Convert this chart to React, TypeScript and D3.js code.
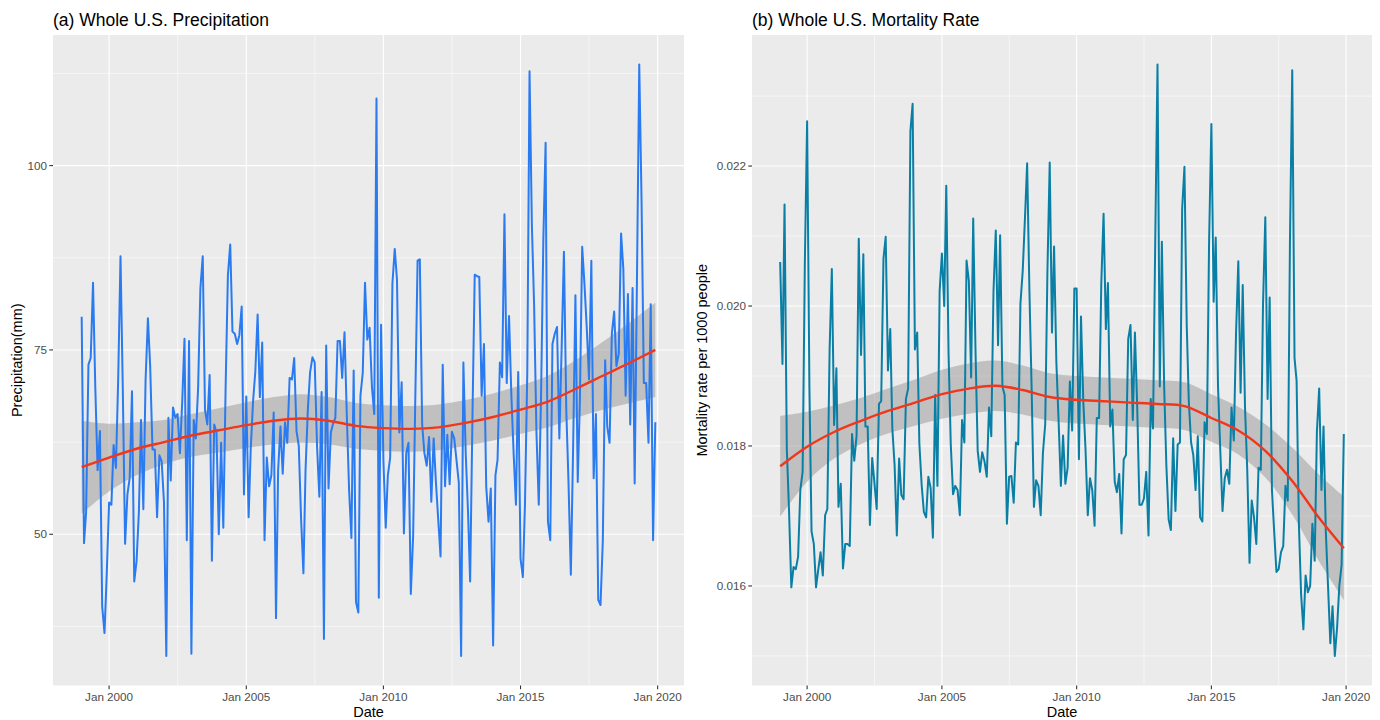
import React from "react";
import * as d3 from "d3";

// ---------------- DATA ----------------
const START_YEAR = 1999; // monthly series, Jan 1999 .. Dec 2019

// Whole U.S. precipitation (mm), monthly
const precipitation = [
  79.5, 48.8, 53, 73, 73.9, 84.1, 70, 58.7, 64, 40.2, 36.6, 44.7,
  54.3, 54, 62.1, 59, 71, 87.7, 70, 48.7, 55.4, 57.6, 69.4, 43.6,
  46.4, 53.1, 65.5, 53.4, 71, 79.3, 72.8, 61.5, 61.5, 52.3, 60.7, 59.9,
  54.3, 33.5, 65.8, 57.3, 67.2, 65.8, 66.3, 61, 68, 76.5, 49.2, 76.2,
  33.8, 65.5, 63, 70, 83.4, 87.7, 66.9, 64.9, 71.6, 46.4, 64.9, 63.8,
  50, 62.4, 50.9, 70, 85.1, 89.3, 77.5, 77.2, 75.8, 77, 80.9, 55.4,
  68.7, 52.3, 61.5, 68, 72, 79.8, 68.6, 76, 49.2, 60.4, 56.5, 58,
  66.5, 38.6, 58.7, 64.6, 58.2, 65.2, 62.4, 71.2, 71, 73.9, 64, 62,
  52, 44.7, 58.7, 67, 72, 74, 73.3, 62, 55.1, 69.3, 35.8, 75.6,
  56.2, 63.8, 65, 65.8, 76.2, 76.2, 71.2, 77.4, 66, 56, 49.5, 72.2,
  40.8, 39.4, 68.8, 71.9, 84.1, 76.4, 78, 70, 66.3, 109.1, 41.4, 78.4,
  60, 50.9, 58, 60.4, 84, 88.7, 84.5, 63.8, 70.6, 50.1, 61, 62.4,
  41.9, 49.8, 68, 87.1, 87.3, 64.9, 61, 59.3, 63.2, 54.4, 63, 57.1,
  52, 47, 73, 56.5, 63.5, 56.8, 63.9, 63, 60, 57, 33.5, 73.3,
  61, 53, 43.6, 66, 85.2, 85, 84.9, 68.8, 75.8, 56.5, 51.7, 56.2,
  34.9, 58, 60.1, 73.3, 71.3, 93.4, 70.5, 79.6, 68.8, 61, 54, 72,
  46.7, 44.2, 54, 72, 112.8, 92, 81, 63.8, 54, 68.5, 90, 103.1,
  51.7, 49.2, 75.8, 77.2, 78.1, 63, 75, 88.3, 67, 57, 44.5, 61.5,
  82.4, 57.1, 68, 89, 84, 78, 71, 87.1, 57.6, 66.3, 41.1, 40.4,
  49.2, 73.6, 64.6, 62.4, 77.2, 80.2, 72.8, 74.5, 90.8, 86, 68.8, 82.6,
  64.9, 83.4, 56.9, 85, 113.7, 95, 70.5, 70.5, 62.4, 81.2, 49.2, 65.2,
];

// Whole U.S. mortality rate per 1000 people, monthly
const mortality = [
  0.02063, 0.01917, 0.02145, 0.01796, 0.01707, 0.01598, 0.01627, 0.01624, 0.01642, 0.01737, 0.01763, 0.02059,
  0.02264, 0.01885, 0.01678, 0.0166, 0.01598, 0.01624, 0.01648, 0.01615, 0.01701, 0.0171, 0.01938, 0.02053,
  0.0183, 0.01911, 0.01713, 0.01746, 0.01625, 0.0166, 0.0166, 0.01657, 0.01817, 0.01779, 0.01814, 0.02096,
  0.0193, 0.02074, 0.01828, 0.01828, 0.01687, 0.01783, 0.01748, 0.0171, 0.0186, 0.01864, 0.02068, 0.02099,
  0.01908, 0.01967, 0.01825, 0.01772, 0.01672, 0.01782, 0.0173, 0.01724, 0.01867, 0.01882, 0.0225, 0.02289,
  0.01938, 0.01962, 0.01804, 0.01745, 0.01706, 0.01698, 0.01756, 0.0174, 0.01669, 0.01873, 0.01743, 0.02021,
  0.02075, 0.02, 0.02172, 0.01932, 0.01802, 0.01731, 0.01743, 0.01737, 0.01701, 0.01837, 0.01805, 0.02065,
  0.02036, 0.01898, 0.02125, 0.01938, 0.01793, 0.01763, 0.01791, 0.01778, 0.01756, 0.01855, 0.01814, 0.02021,
  0.02108, 0.01944, 0.02101, 0.01885, 0.01873, 0.01689, 0.01756, 0.01757, 0.01719, 0.01805, 0.01802, 0.02003,
  0.0205, 0.02127, 0.02204, 0.02021, 0.01882, 0.01713, 0.01751, 0.01743, 0.01701, 0.0179, 0.01831, 0.0205,
  0.02205, 0.01962, 0.02085, 0.0192, 0.01837, 0.01743, 0.01815, 0.01746, 0.01769, 0.01892, 0.01822, 0.02025,
  0.02025, 0.01781, 0.01985, 0.01864, 0.01796, 0.01701, 0.01754, 0.01737, 0.01686, 0.0184, 0.0184, 0.02033,
  0.02132, 0.01967, 0.02033, 0.01828, 0.01852, 0.01749, 0.01734, 0.0176, 0.01675, 0.01781, 0.01787, 0.01953,
  0.01973, 0.01837, 0.01962, 0.01855, 0.01716, 0.01716, 0.01725, 0.01763, 0.01672, 0.01867, 0.01825, 0.02092,
  0.02345, 0.01885, 0.02092, 0.01885, 0.01772, 0.01695, 0.0168, 0.01811, 0.01707, 0.01802, 0.01805, 0.02139,
  0.02199, 0.01973, 0.01864, 0.01805, 0.01787, 0.01737, 0.01814, 0.01698, 0.01692, 0.01834, 0.01817, 0.02092,
  0.0226, 0.02006, 0.02098, 0.01885, 0.01796, 0.01707, 0.01754, 0.01766, 0.01746, 0.01855, 0.01808, 0.0196,
  0.02064, 0.01876, 0.0203, 0.01855, 0.01766, 0.01633, 0.01722, 0.01698, 0.0166, 0.01769, 0.01766, 0.02003,
  0.02127, 0.01867, 0.02012, 0.01737, 0.01678, 0.0162, 0.01624, 0.01648, 0.01657, 0.01743, 0.01722, 0.02092,
  0.02337, 0.01926, 0.01893, 0.01689, 0.01588, 0.01538, 0.01615, 0.01591, 0.016, 0.01689, 0.01636, 0.0182,
  0.01882, 0.01737, 0.01828, 0.01678, 0.016, 0.01518, 0.01571, 0.015, 0.01541, 0.016, 0.0163, 0.01817,
];

// Loess smooth (geom_smooth) read at knots, with its standard-error half-width
const smoothKnots = [
  "1999-01", "2000-01", "2001-01", "2002-01", "2003-01", "2004-01", "2005-01", "2006-01",
  "2007-01", "2008-01", "2009-01", "2010-01", "2011-01", "2012-01", "2013-01", "2014-01",
  "2015-01", "2016-01", "2017-01", "2018-01", "2019-01", "2019-12",
];
const precipSmooth = [59.1, 60.4, 61.6, 62.5, 63.4, 64.1, 64.8, 65.4, 65.7, 65.4, 64.7, 64.4, 64.3, 64.5, 65.1, 65.9, 66.9, 68.0, 69.7, 71.5, 73.3, 75.0];
const precipSe = [6.3, 4.6, 3.6, 3.0, 2.9, 3.0, 3.1, 3.2, 3.3, 3.2, 3.1, 3.1, 3.1, 3.1, 3.1, 3.2, 3.3, 3.5, 3.9, 4.6, 5.5, 6.4];
const mortalitySmooth = [0.01771, 0.01799, 0.0182, 0.01836, 0.0185, 0.01862, 0.01874, 0.01882, 0.01886, 0.0188, 0.0187, 0.01866, 0.01864, 0.01862, 0.0186, 0.01857, 0.0184, 0.01822, 0.01793, 0.0175, 0.01697, 0.01654];
const mortalitySe = [0.00072, 0.0005, 0.00038, 0.00033, 0.00032, 0.00033, 0.00035, 0.00036, 0.00036, 0.00035, 0.00034, 0.00034, 0.00034, 0.00034, 0.00034, 0.00034, 0.00034, 0.00034, 0.00038, 0.00048, 0.00062, 0.00074];

// Tick labels
const xTickYears = [2000, 2005, 2010, 2015, 2020];
const precipTicks = [50, 75, 100];
const mortalityTicks = [0.016, 0.018, 0.02, 0.022];

// ---------------- LAYOUT ----------------
const W = 1380;
const H = 720;
const TOP = 35;
const BOTTOM = 685.5;
const FONT = "'Liberation Sans', Arial, Helvetica, sans-serif";

const parseKnot = d3.timeParse("%Y-%m");

type PanelProps = {
  left: number;
  right: number;
  values: number[];
  smooth: number[];
  se: number[];
  yTicks: number[];
  yFormat: (v: number) => string;
  color: string;
  title: string;
  yLabel: string;
  yLabelX: number;
};

function Panel(p: PanelProps) {
  const dates = p.values.map((_, i) => new Date(START_YEAR, i, 1));
  const t0 = dates[0].getTime();
  const t1 = dates[dates.length - 1].getTime();
  const pad = (t1 - t0) * 0.05;
  const x = d3.scaleTime().domain([new Date(t0 - pad), new Date(t1 + pad)]).range([p.left, p.right]);

  const knots = smoothKnots.map((s) => parseKnot(s) as Date);
  const lo = p.smooth.map((v, i) => v - p.se[i]);
  const hi = p.smooth.map((v, i) => v + p.se[i]);
  const yMin = Math.min(d3.min(p.values)!, d3.min(lo)!);
  const yMax = Math.max(d3.max(p.values)!, d3.max(hi)!);
  const yPad = (yMax - yMin) * 0.05;
  const y = d3.scaleLinear().domain([yMin - yPad, yMax + yPad]).range([BOTTOM, TOP]);

  const xMajor = xTickYears.map((yr) => new Date(yr, 0, 1));
  const xMinor: Date[] = [];
  for (let i = 0; i < xMajor.length - 1; i++) {
    xMinor.push(new Date((xMajor[i].getTime() + xMajor[i + 1].getTime()) / 2));
  }
  const yStep = p.yTicks[1] - p.yTicks[0];
  const yMinorCand = [p.yTicks[0] - yStep / 2, ...p.yTicks.map((t) => t + yStep / 2)];
  const [d0, d1] = y.domain();
  const yMinor = yMinorCand.filter((v) => v > d0 && v < d1);

  const line = d3
    .line<number>()
    .x((_, i) => x(dates[i]))
    .y((v) => y(v));
  const smoothLine = d3
    .line<number>()
    .x((_, i) => x(knots[i]))
    .y((v) => y(v))
    .curve(d3.curveCatmullRom.alpha(0.5));
  const band = d3
    .area<number>()
    .x((_, i) => x(knots[i]))
    .y0((_, i) => y(lo[i]))
    .y1((_, i) => y(hi[i]))
    .curve(d3.curveCatmullRom.alpha(0.5));

  const fmt = d3.timeFormat("%b %Y");
  const cx = (p.left + p.right) / 2;
  const cy = (TOP + BOTTOM) / 2;

  return (
    <g>
      <text x={p.left} y={26} fontSize={17.5} fill="#000" fontFamily={FONT}>
        {p.title}
      </text>
      <rect x={p.left} y={TOP} width={p.right - p.left} height={BOTTOM - TOP} fill="#EBEBEB" />
      {yMinor.map((v) => (
        <line key={"ym" + v} x1={p.left} x2={p.right} y1={y(v)} y2={y(v)} stroke="#fff" strokeWidth={0.55} />
      ))}
      {xMinor.map((d) => (
        <line key={"xm" + d.getTime()} x1={x(d)} x2={x(d)} y1={TOP} y2={BOTTOM} stroke="#fff" strokeWidth={0.55} />
      ))}
      {p.yTicks.map((v) => (
        <line key={"yM" + v} x1={p.left} x2={p.right} y1={y(v)} y2={y(v)} stroke="#fff" strokeWidth={1.1} />
      ))}
      {xMajor.map((d) => (
        <line key={"xM" + d.getTime()} x1={x(d)} x2={x(d)} y1={TOP} y2={BOTTOM} stroke="#fff" strokeWidth={1.1} />
      ))}
      <path d={band(p.smooth) || ""} fill="#8c8c8c" fillOpacity={0.45} />
      <path d={line(p.values) || ""} fill="none" stroke={p.color} strokeWidth={2} strokeLinejoin="round" />
      <path d={smoothLine(p.smooth) || ""} fill="none" stroke="#F2361C" strokeWidth={2.4} />
      {/* x axis */}
      {xMajor.map((d) => (
        <g key={"xt" + d.getTime()}>
          <line x1={x(d)} x2={x(d)} y1={BOTTOM} y2={BOTTOM + 3.7} stroke="#333" strokeWidth={1.1} />
          <text x={x(d)} y={701} fontSize={11.7} fill="#4D4D4D" textAnchor="middle" fontFamily={FONT}>
            {fmt(d)}
          </text>
        </g>
      ))}
      {/* y axis */}
      {p.yTicks.map((v) => (
        <g key={"yt" + v}>
          <line x1={p.left - 3.7} x2={p.left} y1={y(v)} y2={y(v)} stroke="#333" strokeWidth={1.1} />
          <text x={p.left - 6} y={y(v)} dy="0.35em" fontSize={11.7} fill="#4D4D4D" textAnchor="end" fontFamily={FONT}>
            {p.yFormat(v)}
          </text>
        </g>
      ))}
      <text x={cx} y={717} fontSize={14.5} fill="#000" textAnchor="middle" fontFamily={FONT}>
        Date
      </text>
      <text
        transform={`translate(${p.yLabelX},${cy}) rotate(-90)`}
        fontSize={14.5}
        fill="#000"
        textAnchor="middle"
        fontFamily={FONT}
      >
        {p.yLabel}
      </text>
    </g>
  );
}

export default function App() {
  return (
    <svg
      width={W}
      height={H}
      viewBox={`0 0 ${W} ${H}`}
      style={{ position: "absolute", left: 0, top: 0, background: "#fff" }}
    >
      <rect x={0} y={0} width={W} height={H} fill="#fff" />
      <Panel
        left={53}
        right={684}
        values={precipitation}
        smooth={precipSmooth}
        se={precipSe}
        yTicks={precipTicks}
        yFormat={d3.format("d")}
        color="#2A7AF0"
        title="(a) Whole U.S. Precipitation"
        yLabel="Precipitation(mm)"
        yLabelX={22}
      />
      <Panel
        left={752}
        right={1372}
        values={mortality}
        smooth={mortalitySmooth}
        se={mortalitySe}
        yTicks={mortalityTicks}
        yFormat={d3.format(".3f")}
        color="#0A7FA6"
        title="(b) Whole U.S. Mortality Rate"
        yLabel="Mortality rate per 1000 people"
        yLabelX={707}
      />
    </svg>
  );
}
